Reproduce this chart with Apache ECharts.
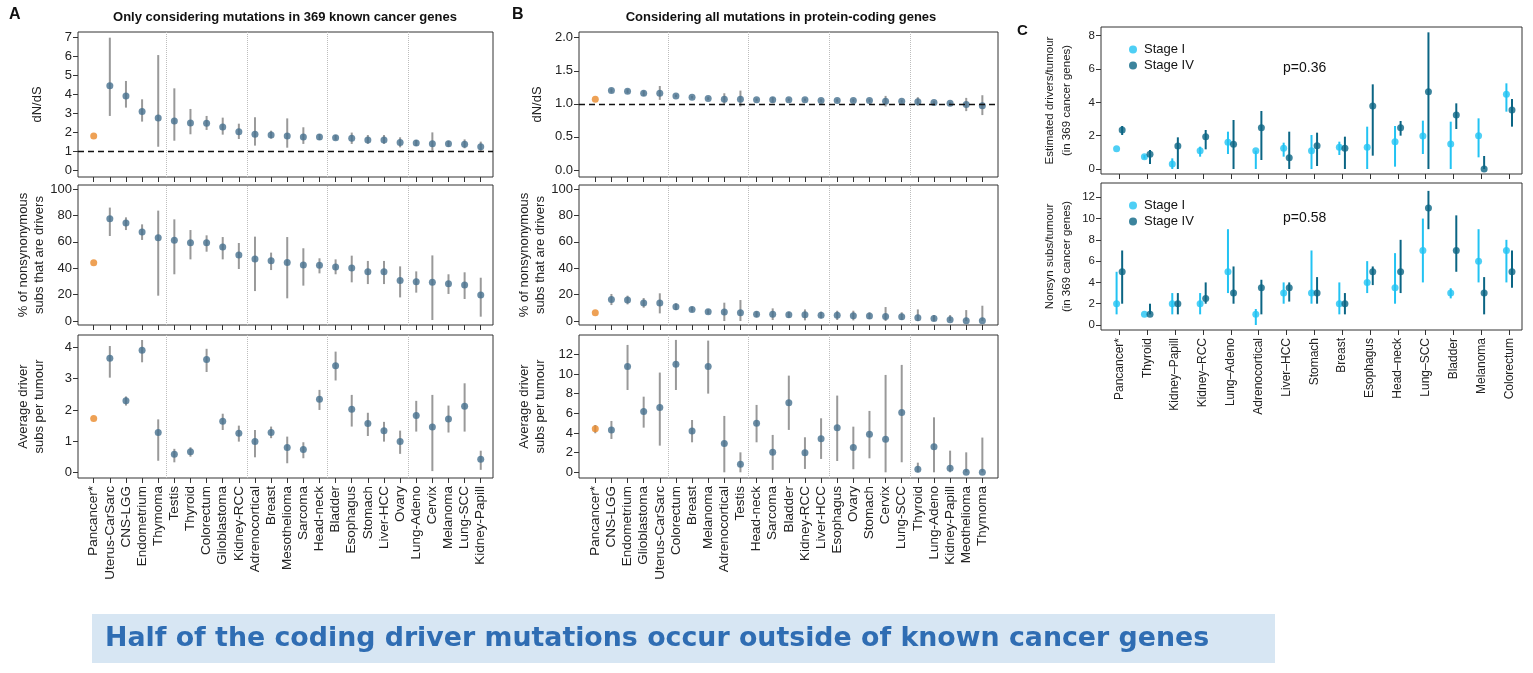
<!DOCTYPE html>
<html><head><meta charset="utf-8">
<script src="https://cdn.jsdelivr.net/npm/echarts@6/dist/echarts.min.js"></script>
<style>html,body{margin:0;padding:0;background:#fff}#c{width:1533px;height:673px}</style>
</head><body><div id="c"></div>
<script>
// ---------- DATA ----------
const catsA = ['Pancancer*','Uterus-CarSarc','CNS-LGG','Endometrium','Thymoma','Testis','Thyroid','Colorectum','Glioblastoma','Kidney-RCC','Adrenocortical','Breast','Mesothelioma','Sarcoma','Head-neck','Bladder','Esophagus','Stomach','Liver-HCC','Ovary','Lung-Adeno','Cervix','Melanoma','Lung-SCC','Kidney-Papill'];
const dndsA    = [1.80,4.46,3.92,3.09,2.75,2.59,2.49,2.47,2.28,2.03,1.89,1.85,1.80,1.75,1.75,1.71,1.68,1.59,1.59,1.45,1.43,1.39,1.39,1.36,1.23];
const dndsA_lo = [1.80,2.86,3.30,2.56,1.23,1.55,1.89,2.12,1.87,1.64,1.29,1.66,1.18,1.38,1.59,1.59,1.38,1.38,1.38,1.20,1.27,1.02,1.23,1.15,1.02];
const dndsA_hi = [1.80,7.00,4.71,3.74,6.08,4.32,3.23,2.86,2.77,2.45,2.79,2.08,2.73,2.26,1.90,1.85,1.98,1.85,1.85,1.73,1.59,1.99,1.55,1.62,1.50];
const pctA     = [44.2,77.5,74.2,67.4,63.1,61.1,59.3,59.3,56.1,50.0,47.0,45.7,44.4,42.4,42.2,40.9,40.2,37.4,37.4,30.6,29.8,29.3,28.3,27.3,19.7];
const pctA_lo  = [44.2,64.4,68.9,61.4,19.2,35.4,46.7,52.5,46.7,39.4,22.7,38.6,17.2,26.8,36.1,35.4,29.3,28.0,28.0,17.9,21.5,0.8,20.5,16.7,3.3];
const pctA_hi  = [44.2,85.9,78.5,73.2,83.6,77.0,68.9,64.9,63.6,59.1,63.9,51.8,63.6,55.1,47.5,46.7,49.5,45.5,45.5,41.4,37.6,49.7,35.4,36.9,32.8];
const drvA     = [1.73,3.65,2.29,3.90,1.28,0.59,0.67,3.61,1.64,1.26,0.99,1.28,0.80,0.74,2.34,3.41,2.02,1.57,1.34,0.99,1.82,1.46,1.71,2.12,0.43];
const drvA_lo  = [1.73,3.03,2.14,3.52,0.38,0.33,0.51,3.21,1.36,0.99,0.49,1.10,0.30,0.46,2.00,2.94,1.47,1.17,0.99,0.60,1.31,0.05,1.28,1.31,0.09];
const drvA_hi  = [1.73,4.04,2.43,4.23,1.70,0.76,0.81,3.95,1.88,1.50,1.36,1.47,1.15,0.97,2.64,3.86,2.48,1.91,1.62,1.34,2.29,2.48,2.14,2.85,0.70];

const catsB = ['Pancancer*','CNS-LGG','Endometrium','Glioblastoma','Uterus-CarSarc','Colorectum','Breast','Melanoma','Adrenocortical','Testis','Head-neck','Sarcoma','Bladder','Kidney-RCC','Liver-HCC','Esophagus','Ovary','Stomach','Cervix','Lung-SCC','Thyroid','Lung-Adeno','Kidney-Papill','Meothelioma','Thymoma'];
const dndsB    = [1.07,1.20,1.19,1.16,1.16,1.12,1.10,1.08,1.07,1.07,1.06,1.06,1.06,1.06,1.05,1.05,1.05,1.05,1.04,1.04,1.03,1.02,1.01,0.99,0.97];
const dndsB_lo = [1.07,1.17,1.16,1.12,1.06,1.10,1.08,1.06,1.00,0.96,1.04,1.02,1.04,1.04,1.03,1.03,1.03,1.03,0.96,1.02,0.97,1.00,0.99,0.89,0.83];
const dndsB_hi = [1.07,1.23,1.22,1.20,1.27,1.14,1.12,1.10,1.16,1.20,1.08,1.10,1.08,1.08,1.07,1.07,1.07,1.07,1.12,1.06,1.10,1.04,1.03,1.09,1.13];
const pctB     = [6.3,16.4,15.9,13.6,13.6,10.9,8.8,7.1,6.8,6.3,5.1,5.1,4.8,4.8,4.3,4.3,4.0,3.8,3.5,3.3,2.5,2.0,1.0,0.3,0.3];
const pctB_lo  = [6.3,12.1,12.6,10.1,5.8,8.3,7.1,5.3,0,0,2.8,0.8,2.5,0.5,2.0,0.8,0.5,1.5,0,0.8,0,0,0,0,0];
const pctB_hi  = [6.3,20.5,19.2,17.4,21.0,13.4,10.9,8.8,13.9,15.9,7.3,9.6,7.1,8.8,7.1,7.8,7.8,6.6,10.6,6.6,8.8,4.5,4.5,8.3,11.6];
const drvB     = [4.44,4.31,10.75,6.17,6.58,10.98,4.20,10.75,2.92,0.81,4.98,2.03,7.08,2.00,3.42,4.54,2.51,3.86,3.36,6.07,0.31,2.61,0.41,0,0];
const drvB_lo  = [3.97,3.39,8.37,4.54,2.71,8.37,3.05,8.00,0,0,3.05,0.24,4.31,0.34,1.36,1.15,0.31,1.42,0,1.02,0,0,0,0,0];
const drvB_hi  = [4.81,5.22,12.95,7.69,10.14,13.46,5.32,13.39,5.73,2.03,6.85,3.80,9.83,3.56,5.49,7.80,4.64,6.24,9.90,10.92,0.98,5.59,2.20,2.03,3.53];

const catsC = ['Pancancer*','Thyroid','Kidney\u2013Papill','Kidney\u2013RCC','Lung\u2013Adeno','Adrenocortical','Liver\u2013HCC','Stomach','Breast','Esophagus','Head\u2013neck','Lung\u2013SCC','Bladder','Melanoma','Colorectum'];
const estI     = [1.22,0.74,0.30,1.10,1.60,1.10,1.24,1.10,1.30,1.30,1.64,1.98,1.50,2.00,4.48];
const estI_lo  = [1.22,0.62,0,0.74,0.90,0,0.74,0,0.84,0,0.14,0.90,0,0.70,3.44];
const estI_hi  = [1.22,0.84,0.64,1.34,2.24,1.10,1.58,2.04,1.64,2.54,2.58,2.90,2.84,3.04,5.14];
const estIV    = [2.34,0.88,1.38,1.94,1.48,2.48,0.68,1.40,1.24,3.78,2.48,4.64,3.24,0,3.54];
const estIV_lo = [2.04,0.30,0,1.18,0,0.54,0,0.18,0,0.80,2.00,0,2.40,0,2.54];
const estIV_hi = [2.58,1.14,1.90,2.34,2.94,3.48,2.24,2.18,1.94,5.08,2.88,8.20,3.94,0.78,4.20];
const nsI      = [2,1,2,2,5,1,3,3,2,4,3.5,7,3,6,7];
const nsI_lo   = [1,1,1,1,3,0,2,2,1,3,2,4,2.5,4,4];
const nsI_hi   = [5,1,3,3,9,1.5,4,7,4,6,6.75,10,3.45,9,8];
const nsIV     = [5,1,2,2.5,3,3.5,3.5,3,2,5,5,11,7,3,5];
const nsIV_lo  = [2,1,1,2,2,1,2.2,2,1,3.75,3,9,5,1,3.5];
const nsIV_hi  = [7,2,3,4,5.5,4.25,4,4.5,3,5.5,8,12.6,10.3,4.5,7];

const ticksDnDsA = [0,1,2,3,4,5,6,7];
const ticksPct = [0,20,40,60,80,100];
const ticksDrvA = [0,1,2,3,4];
const ticksDnDsB = [0,0.5,1,1.5,2];
const ticksDrvB = [0,2,4,6,8,10,12];
const ticksEstC = [0,2,4,6,8];
const ticksNsC = [0,2,4,6,8,10,12];
const sepLines = [4.5,9.5,14.5,19.5];

// ---------- STYLE ----------
const FONT = '"Liberation Sans", Arial, Helvetica, sans-serif';
const BLUE = '#46708e', ORANGE = '#ea8a2b', BAR = '#999999';
const C1 = '#22c3f3', C4 = '#0b6584';

const grids=[], xAxes=[], yAxes=[], series=[];
function addPanel(o){
  const gi = grids.length;
  grids.push({left:o.box[0], top:o.box[1], width:o.box[2], height:o.box[3], show:true, borderColor:'#333', borderWidth:1, backgroundColor:'transparent'});
  const idx = o.cats.map((_,i)=>i);
  xAxes.push({type:'value', gridIndex:gi, position:'bottom', min:o.xr[0], max:o.xr[1], axisLine:{show:false, onZero:false}, splitLine:{show:false},
    axisTick:{show:true, inside:false, length:5, customValues:idx, lineStyle:{color:'#333'}},
    axisLabel:{show:o.showX, customValues:idx, rotate:90, formatter:v=>o.cats[Math.round(v)]||'', fontSize:o.fx, color:'#222', fontFamily:FONT, margin:8}});
  yAxes.push({type:'value', gridIndex:gi, position:'left', min:o.yr[0], max:o.yr[1], axisLine:{show:false, onZero:false}, splitLine:{show:false},
    axisTick:{show:true, inside:false, length:5, customValues:o.yt, lineStyle:{color:'#333'}},
    axisLabel:{customValues:o.yt, formatter:o.yf||(v=>String(v)), fontSize:o.fy, color:'#222', fontFamily:FONT, margin:6},
    name:o.yname, nameLocation:'middle', nameGap:o.ngap, nameRotate:90, nameMoveOverlap:false,
    nameTextStyle:{fontSize:o.fn, color:'#222', fontFamily:FONT, lineHeight:o.lh||16}});
  return gi;
}
function errSeries(gi, xs, lo, hi, color, width, markData){
  const s = {type:'custom', xAxisIndex:gi, yAxisIndex:gi, z:2, silent:true, clip:false,
    data: xs.map((x,i)=>[x, lo[i], hi[i]]),
    encode:{x:0, y:[1,2]},
    renderItem:(p,api)=>{
      const a=api.coord([api.value(0),api.value(1)]), b=api.coord([api.value(0),api.value(2)]);
      return {type:'line', shape:{x1:a[0],y1:a[1],x2:b[0],y2:b[1]}, style:{stroke:color, lineWidth:width}};
    }};
  if(markData) s.markLine = {silent:true, symbol:['none','none'], label:{show:false}, animation:false, data:markData};
  return s;
}
function dotSeries(gi, xs, vals, colorFn, name){
  return {type:'scatter', name:name, xAxisIndex:gi, yAxisIndex:gi, z:3, symbolSize:7, silent:true,
    itemStyle:{color:colorFn(1)},
    data: xs.map((x,i)=>({value:[x, vals[i]], itemStyle:{color:colorFn(i)}}))};
}
const sepMarks = sepLines.map(v=>({xAxis:v, lineStyle:{type:'dotted', color:'#bdbdbd', width:1}}));
const oneMark = {yAxis:1, lineStyle:{type:[6,4], color:'#111', width:1.4}};
const abColor = i => i===0 ? ORANGE : BLUE;

function abColumn(cats, xr, left, width, sets){
  const boxes = [[left,32,width,145],[left,185,width,140],[left,335,width,143]];
  sets.forEach((st, k)=>{
    const gi = addPanel({box:boxes[k], xr:xr, yr:st.yr, yt:st.yt, yf:st.yf, cats:cats, showX:k===2, fx:13.5, fy:13,
      yname:st.name, ngap:st.ngap, fn:13});
    const xs = cats.map((_,i)=>i);
    const marks = sepMarks.slice(); if(st.one) marks.push(oneMark);
    series.push(errSeries(gi, xs, st.lo, st.hi, BAR, 2, marks));
    series.push(dotSeries(gi, xs, st.v, abColor));
  });
}
abColumn(catsA, [-0.974, 24.76], 78, 415, [
  {v:dndsA, lo:dndsA_lo, hi:dndsA_hi, yr:[-0.37,7.30], yt:ticksDnDsA, name:'dN/dS', ngap:33, one:true},
  {v:pctA, lo:pctA_lo, hi:pctA_hi, yr:[-3,103], yt:ticksPct, name:'% of nonsynonymous\nsubs that are drivers', ngap:31},
  {v:drvA, lo:drvA_lo, hi:drvA_hi, yr:[-0.17,4.39], yt:ticksDrvA, name:'Average driver\nsubs per tumour', ngap:31}
]);
abColumn(catsB, [-1.01, 24.97], 579, 419, [
  {v:dndsB, lo:dndsB_lo, hi:dndsB_hi, yr:[-0.106,2.086], yt:ticksDnDsB, yf:v=>v.toFixed(1), name:'dN/dS', ngap:34, one:true},
  {v:pctB, lo:pctB_lo, hi:pctB_hi, yr:[-3,103], yt:ticksPct, name:'% of nonsynonymous\nsubs that are drivers', ngap:31},
  {v:drvB, lo:drvB_lo, hi:drvB_hi, yr:[-0.58,13.96], yt:ticksDrvB, name:'Average driver\nsubs per tumour', ngap:31}
]);

// Panel C
const cSets = [
  {box:[1101,27,421,147], yr:[-0.30,8.52], yt:ticksEstC, name:'Estimated drivers/tumour\n(in 369 cancer genes)', I:[estI,estI_lo,estI_hi], IV:[estIV,estIV_lo,estIV_hi]},
  {box:[1101,183,421,147], yr:[-0.47,13.34], yt:ticksNsC, name:'Nonsyn subs/tumour\n(in 369 cancer genes)', I:[nsI,nsI_lo,nsI_hi], IV:[nsIV,nsIV_lo,nsIV_hi]}
];
cSets.forEach((st,k)=>{
  const gi = addPanel({box:st.box, xr:[-0.66,14.46], yr:st.yr, yt:st.yt, cats:catsC, showX:k===1, fx:12, fy:11.5,
    yname:st.name, ngap:26, fn:11.5, lh:17});
  const xI = catsC.map((_,i)=>i-0.1), xIV = catsC.map((_,i)=>i+0.1);
  series.push(errSeries(gi, xI, st.I[1], st.I[2], C1, 2));
  series.push(errSeries(gi, xIV, st.IV[1], st.IV[2], C4, 2));
  series.push(dotSeries(gi, xI, st.I[0], ()=>C1, 'Stage I'));
  series.push(dotSeries(gi, xIV, st.IV[0], ()=>C4, 'Stage IV'));
});

const legendBase = {data:['Stage I','Stage IV'], orient:'vertical', icon:'circle', itemWidth:8, itemHeight:8, itemGap:3,
  selectedMode:false, textStyle:{fontSize:13, color:'#111', fontFamily:FONT, padding:[0,0,0,2]}, padding:0};

// banner font size fitted to the reference text width
const BANNER = 'Half of the coding driver mutations occur outside of known cancer genes';
const BFONT = '"DejaVu Sans", "Open Sans", sans-serif';
const mctx = document.createElement('canvas').getContext('2d');
mctx.font = 'bold 24px ' + BFONT;
const bannerSize = Math.min(30, 24 * 1105 / mctx.measureText(BANNER).width);

const option = {
  animation:false,
  textStyle:{fontFamily:FONT},
  grid:grids, xAxis:xAxes, yAxis:yAxes, series:series,
  legend:[Object.assign({left:1129, top:43}, legendBase), Object.assign({left:1129, top:199}, legendBase)],
  graphic:[
    {type:'text', left:9, top:7, style:{text:'A', font:'bold 16px '+FONT, fill:'#111'}},
    {type:'text', left:512, top:7, style:{text:'B', font:'bold 16px '+FONT, fill:'#111'}},
    {type:'text', left:1017, top:23, style:{text:'C', font:'bold 15px '+FONT, fill:'#111'}},
    {type:'text', x:285, y:17, style:{text:'Only considering mutations in 369 known cancer genes', font:'bold 13px '+FONT, fill:'#111', align:'center', verticalAlign:'middle'}},
    {type:'text', x:781, y:17, style:{text:'Considering all mutations in protein-coding genes', font:'bold 13px '+FONT, fill:'#111', align:'center', verticalAlign:'middle'}},
    {type:'text', x:1283, y:68, style:{text:'p=0.36', font:'14px '+FONT, fill:'#111', verticalAlign:'middle'}},
    {type:'text', x:1283, y:218, style:{text:'p=0.58', font:'14px '+FONT, fill:'#111', verticalAlign:'middle'}},
    {type:'rect', shape:{x:92, y:614, width:1183, height:49}, style:{fill:'#d7e6f3'}},
    {type:'text', x:105, y:639, style:{text:BANNER, font:'bold '+bannerSize.toFixed(1)+'px '+BFONT, fill:'#2f6db3', verticalAlign:'middle'}}
  ]
};
const chart = echarts.init(document.getElementById('c'), null, {renderer:'canvas'});
chart.setOption(option);
</script></body></html>
